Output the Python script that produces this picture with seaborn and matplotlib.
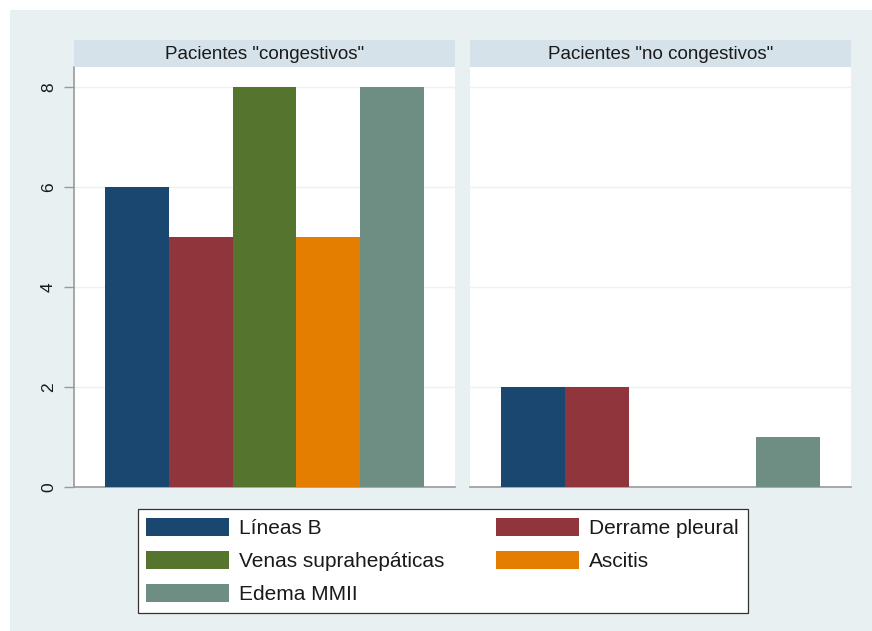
import matplotlib
matplotlib.use("Agg")
import matplotlib.pyplot as plt
from matplotlib.patches import Rectangle, Patch
import pandas as pd
import seaborn as sns

categorias = ["Líneas B", "Derrame pleural", "Venas suprahepáticas", "Ascitis", "Edema MMII"]
congestivos = [6, 5, 8, 5, 8]
no_congestivos = [2, 2, 0, 0, 1]
paneles = ['Pacientes "congestivos"', 'Pacientes "no congestivos"']
colores = ["#1a476f", "#90353b", "#55752f", "#e37e00", "#6e8e84"]
yticks = [0, 2, 4, 6, 8]

sns.set_theme(style="white")
plt.rcParams["font.family"] = ["Liberation Sans", "DejaVu Sans"]

df = pd.DataFrame({
    "panel": [paneles[0]] * len(categorias) + [paneles[1]] * len(categorias),
    "categoria": categorias * 2,
    "valor": congestivos + no_congestivos,
})
paleta = dict(zip(categorias, colores))

W, H = 872, 631
fig = plt.figure(figsize=(W / 100, H / 100), dpi=100)
fig.patch.set_facecolor("white")
bg = "#e8f0f2"
strip = "#d5e2e9"
fig.add_artist(Rectangle((10 / W, 0), 1 - 10 / W, 1 - 10 / H, transform=fig.transFigure,
                         facecolor=bg, edgecolor="none", zorder=0))

ax_w = 381 / W
ax_b = (H - 487) / H
ax_h = 420 / H
lefts = [74 / W, 470 / W]

for i, (panel, left) in enumerate(zip(paneles, lefts)):
    ax = fig.add_axes([left, ax_b, ax_w, ax_h])
    ax.set_facecolor("white")
    sub = df[df["panel"] == panel]
    sns.barplot(data=sub, x="categoria", y="valor", hue="categoria", palette=paleta,
                order=categorias, hue_order=categorias, width=1.0, legend=False,
                saturation=1, linewidth=0, errorbar=None, ax=ax, zorder=3)
    ax.set_xlim(-0.99, 4.99)
    ax.set_ylim(0, 8.4)
    ax.set_yticks(yticks)
    ax.grid(axis="y", color="#eaf2f3", linewidth=1.0, zorder=0)
    ax.set_axisbelow(True)
    ax.set_xlabel("")
    ax.set_ylabel("")
    ax.set_xticks([])
    for s in ["top", "right"]:
        ax.spines[s].set_visible(False)
    ax.spines["bottom"].set_color("#9a9a9a")
    ax.spines["bottom"].set_linewidth(1.2)
    if i == 0:
        ax.spines["left"].set_color("#9a9a9a")
        ax.spines["left"].set_linewidth(1.2)
        ax.tick_params(axis="y", left=True, length=7, width=1.0, color="#9a9a9a",
                       labelsize=12.5, labelcolor="#1a1a1a", pad=6)
        for lab in ax.get_yticklabels():
            lab.set_rotation(90)
            lab.set_va("center")
    else:
        ax.spines["left"].set_visible(False)
        ax.tick_params(axis="y", left=False, labelleft=False)
    # panel title strip
    fig.add_artist(Rectangle((left, (H - 67) / H), ax_w, 27 / H, transform=fig.transFigure,
                             facecolor=strip, edgecolor="none", zorder=1))
    fig.text(left + ax_w / 2, (H - 54.5) / H, panel, ha="center", va="center",
             fontsize=13.5, color="#1a1a1a", zorder=2)

# legend fills row by row: reorder for matplotlib's column-major layout
orden = [0, 2, 4, 1, 3]
handles = [Patch(facecolor=colores[k], edgecolor="none", label=categorias[k]) for k in orden]
leg = fig.legend(handles=handles, loc="center", bbox_to_anchor=(442.5 / W, (H - 561) / H),
                 ncol=2, frameon=True, fancybox=False, framealpha=1, fontsize=15,
                 handlelength=3.95, handleheight=1.0, handletextpad=0.5,
                 columnspacing=2.5, labelspacing=0.6, borderpad=0.42)
leg.get_frame().set_edgecolor("#333333")
leg.get_frame().set_linewidth(0.9)
leg.get_frame().set_facecolor("white")
for t in leg.get_texts():
    t.set_color("#1a1a1a")

fig.savefig("out.png", dpi=100, facecolor=fig.get_facecolor())
